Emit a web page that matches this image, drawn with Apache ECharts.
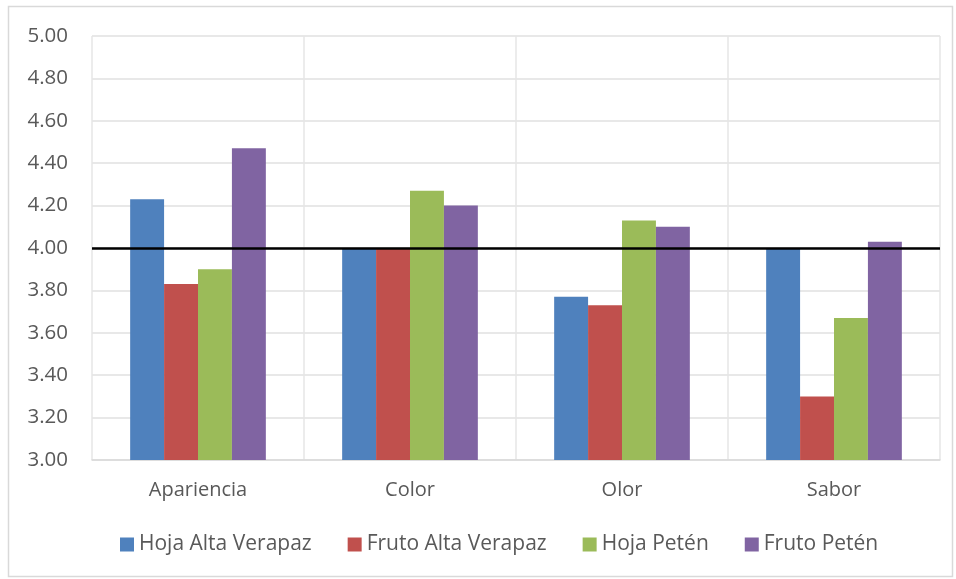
<!DOCTYPE html>
<html><head><meta charset="utf-8">
<script src="https://cdn.jsdelivr.net/npm/echarts@6/dist/echarts.min.js"></script>
<style>html,body{margin:0;padding:0;background:#fff}#c{width:956px;height:579px}</style>
</head><body><div id="c"></div>
<script>
const categories = ['Apariencia', 'Color', 'Olor', 'Sabor'];
const hojaAltaVerapaz = [4.23, 4.00, 3.77, 4.00];
const frutoAltaVerapaz = [3.83, 4.00, 3.73, 3.30];
const hojaPeten = [3.90, 4.27, 4.13, 3.67];
const frutoPeten = [4.47, 4.20, 4.10, 4.03];
const seriesNames = ['Hoja Alta Verapaz', 'Fruto Alta Verapaz', 'Hoja Petén', 'Fruto Petén'];
const referenceValue = 4.005;

const colors = ['#4f81bd', '#c0504d', '#9bbb59', '#8064a2'];
const font = '"Open Sans", "Noto Sans", sans-serif';
const chart = echarts.init(document.getElementById('c'), null, {renderer: 'canvas'});
const dataSets = [hojaAltaVerapaz, frutoAltaVerapaz, hojaPeten, frutoPeten];
chart.setOption({
  animation: false,
  color: colors,
  graphic: [{type: 'rect', shape: {x: 8.5, y: 6.5, width: 944, height: 570}, style: {fill: 'none', stroke: '#d9d9d9', lineWidth: 1.5}, silent: true}],
  grid: {left: 92, top: 36, right: 16, bottom: 119},
  legend: {
    bottom: 19, left: 115, itemWidth: 14, itemHeight: 14, itemGap: 36,
    icon: 'rect',
    textStyle: {fontFamily: font, fontSize: 21, color: '#595959'},
    data: seriesNames
  },
  xAxis: {
    type: 'category', data: categories,
    axisLine: {lineStyle: {color: '#d9d9d9', width: 1.5}},
    axisTick: {show: false},
    splitLine: {show: true, lineStyle: {color: '#e6e6e6', width: 1.5}},
    axisLabel: {fontFamily: font, fontSize: 20, color: '#595959', margin: 20}
  },
  yAxis: {
    type: 'value', min: 3, max: 5, interval: 0.2,
    axisLine: {show: false}, axisTick: {show: false},
    splitLine: {lineStyle: {color: '#e0e0e0', width: 1.5}},
    axisLabel: {fontFamily: font, fontSize: 20.5, color: '#595959', margin: 24, formatter: v => v.toFixed(2)}
  },
  series: dataSets.map((d, i) => ({
    name: seriesNames[i], type: 'bar', data: d,
    barGap: '0%', barCategoryGap: '36%',
    itemStyle: {color: colors[i]},
    markLine: i === 0 ? {
      silent: true, symbol: 'none', label: {show: false},
      lineStyle: {color: '#000', width: 2.5, type: 'solid'},
      data: [{yAxis: referenceValue}]
    } : undefined
  }))
});
</script></body></html>
